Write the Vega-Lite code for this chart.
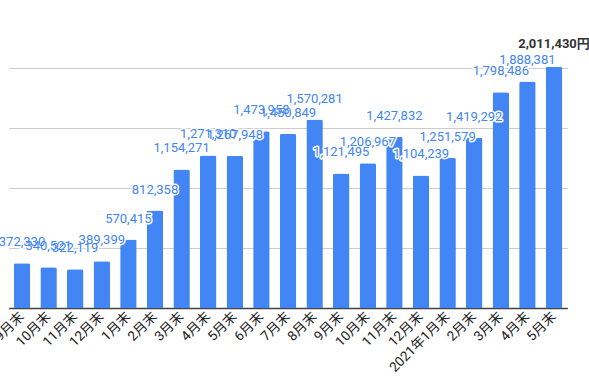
{
  "$schema": "https://vega.github.io/schema/vega-lite/v6.json",
  "autosize": {"type": "none"},
  "padding": {"left": 8.7, "top": 0, "right": 21.7, "bottom": 84},
  "width": 558.6,
  "height": 308,
  "background": "white",
  "config": {"view": {"stroke": null}, "font": "Roboto, 'Noto Sans CJK JP'"},
  "data": {"values": [
    {"key": "2019-09", "value": 372330},
    {"key": "2019-10", "value": 340521},
    {"key": "2019-11", "value": 322119},
    {"key": "2019-12", "value": 389399},
    {"key": "2020-01", "value": 570415},
    {"key": "2020-02", "value": 812358},
    {"key": "2020-03", "value": 1154271},
    {"key": "2020-04", "value": 1271310},
    {"key": "2020-05", "value": 1267948},
    {"key": "2020-06", "value": 1473958},
    {"key": "2020-07", "value": 1450849},
    {"key": "2020-08", "value": 1570281},
    {"key": "2020-09", "value": 1121495},
    {"key": "2020-10", "value": 1206967},
    {"key": "2020-11", "value": 1427832},
    {"key": "2020-12", "value": 1104239},
    {"key": "2021-01", "value": 1251579},
    {"key": "2021-02", "value": 1419292},
    {"key": "2021-03", "value": 1798486},
    {"key": "2021-04", "value": 1888381},
    {"key": "2021-05", "value": 2011430}
  ]},
  "encoding": {
    "x": {
      "field": "key", "type": "ordinal",
      "scale": {"paddingInner": 0.38, "paddingOuter": 0.19},
      "axis": {
        "title": null,
        "labelExpr": "(datum.value == '2021-01' ? '2021年' : '') + toNumber(split(datum.value, '-')[1]) + '月末'",
        "labelAngle": -45,
        "labelAlign": "right",
        "labelBaseline": "middle",
        "labelFontSize": 13.5,
        "labelColor": "#222222",
        "labelPadding": 6,
        "ticks": false,
        "domainColor": "#444444",
        "domainWidth": 1.5,
        "grid": false
      }
    },
    "y": {
      "field": "value", "type": "quantitative",
      "scale": {"domain": [0, 2566667], "nice": false, "zero": true},
      "axis": {
        "title": null,
        "values": [500000, 1000000, 1500000, 2000000],
        "labels": false, "ticks": false, "domain": false,
        "grid": true, "gridColor": "#cccccc", "gridWidth": 1
      }
    }
  },
  "layer": [
    {"mark": {"type": "bar", "color": "#4285f4", "cornerRadiusTopLeft": 2, "cornerRadiusTopRight": 2}},
    {
      "transform": [{"filter": "datum.key != '2021-05'"}],
      "mark": {"type": "text", "fontSize": 13, "dy": -17, "baseline": "alphabetic", "stroke": "white", "strokeWidth": 3, "strokeJoin": "round", "fill": "white"},
      "encoding": {"text": {"field": "value", "type": "quantitative", "format": ","}}
    },
    {
      "transform": [{"filter": "datum.key != '2021-05'"}],
      "mark": {"type": "text", "fontSize": 13, "dy": -17, "baseline": "alphabetic", "color": "#4285f4"},
      "encoding": {"text": {"field": "value", "type": "quantitative", "format": ","}}
    },
    {
      "transform": [{"filter": "datum.key == '2021-05'"}, {"calculate": "format(datum.value, ',') + '円'", "as": "label"}],
      "mark": {"type": "text", "fontSize": 13, "fontWeight": "bold", "dy": -19, "baseline": "alphabetic", "color": "#333333"},
      "encoding": {"text": {"field": "label", "type": "nominal"}}
    }
  ]
}
